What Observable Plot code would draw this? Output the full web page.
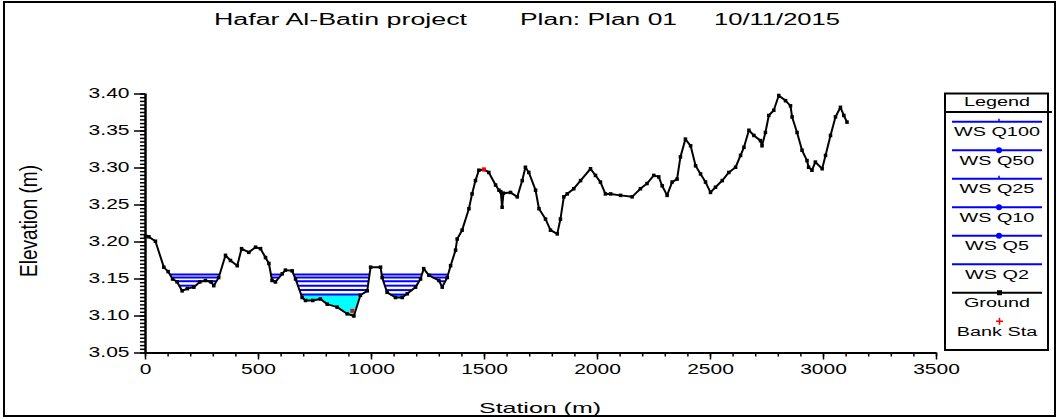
<!DOCTYPE html>
<html><head><meta charset="utf-8">
<script src="https://cdn.jsdelivr.net/npm/d3@7"></script>
<script src="https://cdn.jsdelivr.net/npm/@observablehq/plot@0.6"></script>
<style>
body{margin:0;background:#fff;}
#wrap{position:relative;width:1058px;height:419px;}
svg text{font-family:"Liberation Sans",Arial,sans-serif;}
</style></head><body><div id="wrap"></div>
<script>
// ---- data ----
const titleParts = ["Hafar Al-Batin project", "Plan: Plan 01", "10/11/2015"];
const xLabel = "Station (m)";
const yLabel = "Elevation (m)";
const stations = [0,15,44,81,100,120,140,162,185,214,240,265,290,302,324,354,376,406,425,457,487,509,531,546,560,575,605,619,649,664,693,708,740,774,804,848,892,922,951,981,996,1040,1047,1069,1106,1136,1158,1195,1217,1231,1254,1298,1313,1335,1350,1372,1379,1401,1431,1445,1460,1475,1497,1519,1549,1564,1572,1578,1584,1615,1645,1667,1681,1696,1726,1741,1770,1792,1822,1836,1851,1866,1895,1925,1969,1991,2013,2035,2058,2102,2153,2190,2219,2249,2271,2286,2308,2330,2352,2367,2389,2412,2434,2456,2478,2500,2522,2552,2581,2611,2633,2648,2670,2692,2721,2728,2743,2758,2780,2802,2832,2854,2861,2883,2905,2927,2934,2949,2964,2994,3009,3031,3053,3075,3090,3104];
const elevations = [3.208,3.207,3.201,3.166,3.160,3.150,3.146,3.134,3.137,3.139,3.146,3.148,3.146,3.141,3.152,3.182,3.175,3.168,3.191,3.186,3.193,3.191,3.179,3.171,3.148,3.146,3.157,3.162,3.161,3.150,3.125,3.121,3.121,3.123,3.116,3.112,3.103,3.100,3.128,3.134,3.166,3.166,3.152,3.132,3.125,3.125,3.130,3.139,3.150,3.164,3.155,3.148,3.139,3.152,3.168,3.189,3.204,3.216,3.245,3.265,3.283,3.297,3.298,3.294,3.277,3.270,3.268,3.247,3.266,3.267,3.261,3.283,3.301,3.294,3.270,3.245,3.231,3.216,3.211,3.231,3.261,3.265,3.272,3.283,3.299,3.290,3.281,3.265,3.265,3.263,3.261,3.272,3.279,3.290,3.288,3.276,3.263,3.281,3.285,3.315,3.339,3.330,3.303,3.292,3.281,3.267,3.274,3.283,3.294,3.301,3.317,3.328,3.351,3.344,3.337,3.330,3.348,3.371,3.378,3.398,3.391,3.384,3.369,3.348,3.324,3.310,3.301,3.297,3.308,3.299,3.317,3.344,3.369,3.382,3.371,3.362];
const profiles = ["WS Q100","WS Q50","WS Q25","WS Q10","WS Q5","WS Q2"];
const wsLevels = [3.156,3.152,3.147,3.141,3.135,3.129];
const profileMarkers = ["tick","dot","tick","dot","dot","none"];
const bankStations = [915,1497];
const bankElevations = [3.107,3.298];
const xTicks = [0,500,1000,1500,2000,2500,3000,3500];
const yTicks = [3.05,3.10,3.15,3.20,3.25,3.30,3.35,3.40];
const xMinorStep = 100;
const yMinorStep = 0.005;

// ---- derived tables ----
const ground = stations.map((x,i)=>({x, z: elevations[i]}));
const bank = bankStations.map((x,i)=>({x, z: bankElevations[i]}));
function crossX(q,p,level){ return q.x + (level-q.z)/(p.z-q.z)*(p.x-q.x); }
function wetSegments(level){
  const segs=[]; let start = ground[0].z < level ? ground[0].x : null;
  for(let i=1;i<ground.length;i++){
    const q=ground[i-1], p=ground[i];
    const qb=q.z<level, pb=p.z<level;
    if(!qb && pb) start = crossX(q,p,level);
    else if(qb && !pb){ segs.push({x1:start, x2:crossX(q,p,level), y:level}); start=null; }
  }
  if(start!==null) segs.push({x1:start, x2:ground[ground.length-1].x, y:level});
  return segs;
}
function fillTable(level){
  const out=[ground[0]];
  for(let i=1;i<ground.length;i++){
    const q=ground[i-1], p=ground[i];
    if((q.z-level)*(p.z-level)<0) out.push({x:crossX(q,p,level), z:level});
    out.push(p);
  }
  return out.map(d=>({x:d.x, z:d.z, top:Math.max(d.z, level)}));
}
const wsSegs = wsLevels.flatMap((lv,i)=>wetSegments(lv).map(s=>({...s, profile:profiles[i]})));
const lowest = wsLevels[wsLevels.length-1];
const fillData = fillTable(lowest);
const xMinor = d3.range(xTicks[0], xTicks[xTicks.length-1]+1e-9, xMinorStep);
const yMinor = d3.range(0, Math.round((yTicks[yTicks.length-1]-yTicks[0])/yMinorStep)+1).map(i=>+(yTicks[0]+i*yMinorStep).toFixed(4));

const BLUE="#0000ff";
const chart = Plot.plot({
  width:1058, height:419,
  marginLeft:145, marginRight:122, marginTop:93.5, marginBottom:66.5,
  style:{fontFamily:"Liberation Sans, Arial, sans-serif", fontSize:"14px", color:"#000", background:"#fff"},
  x:{domain:[xTicks[0], xTicks[xTicks.length-1]]},
  y:{domain:[yTicks[0], yTicks[yTicks.length-1]]},
  marks:[
    Plot.areaY(fillData,{x:"x", y1:"z", y2:"top", fill:"#00ffff"}),
    Plot.ruleY(wsSegs,{x1:"x1", x2:"x2", y:"y", stroke:BLUE, strokeWidth:2}),
    Plot.line(ground,{x:"x", y:"z", stroke:"#000", strokeWidth:2}),
    Plot.dot(ground,{x:"x", y:"z", symbol:"square", r:2, fill:"#000"}),
    Plot.dot(bank,{x:"x", y:"z", symbol:"square", r:2.2, fill:"#ff0000"}),
    Plot.axisX({ticks:xMinor, tickSize:4, text:null, strokeWidth:1.5}),
    Plot.axisX({ticks:xTicks, tickSize:7, tickPadding:4, tickFormat:d=>String(d), label:null, strokeWidth:1.5}),
    Plot.axisY({ticks:yMinor, tickSize:5, text:null, strokeWidth:1.5}),
    Plot.axisY({ticks:yTicks, tickSize:11, tickPadding:5, tickFormat:d3.format(".2f"), label:null, strokeWidth:1.5}),
    Plot.ruleX([xTicks[0]],{y1:yTicks[0], y2:yTicks[yTicks.length-1], strokeWidth:2.5}),
    Plot.ruleY([yTicks[0]],{x1:xTicks[0], x2:xTicks[xTicks.length-1], strokeWidth:2})
  ]
});
document.getElementById("wrap").appendChild(chart);
const svg = d3.select(chart);

// stretch tick labels (reference glyphs are horizontally widened)
function stretch(el, f){ const w=el.getComputedTextLength(); el.setAttribute("textLength", (w*f).toFixed(1)); el.setAttribute("lengthAdjust","spacingAndGlyphs"); }
svg.selectAll("text").each(function(){ stretch(this, 1.5); });

// outer border
svg.append("rect").attr("x",4).attr("y",2).attr("width",1051).attr("height",414)
  .attr("fill","none").attr("stroke","#000").attr("stroke-width",2);

// title
const titleX=[214,520,714], titleW=[253,157,126];
titleParts.forEach((t,i)=>{
  svg.append("text").attr("x",titleX[i]).attr("y",25).attr("text-anchor","start").attr("font-size",16).attr("fill","#000")
    .attr("textLength",titleW[i]).attr("lengthAdjust","spacingAndGlyphs").text(t);
});
// axis labels
svg.append("text").attr("x",540).attr("y",413).attr("text-anchor","middle").attr("font-size",15)
  .attr("textLength",122).attr("lengthAdjust","spacingAndGlyphs").text(xLabel);
svg.append("text").attr("transform","translate(37,221) scale(1.4,1) rotate(-90)").attr("text-anchor","middle")
  .attr("font-size",17).attr("textLength",112).attr("lengthAdjust","spacingAndGlyphs").text(yLabel);

// legend
const lg = svg.append("g");
lg.append("rect").attr("x",945).attr("y",93.5).attr("width",103).attr("height",256.5).attr("fill","#fff").attr("stroke","#000").attr("stroke-width",2);
lg.append("line").attr("x1",945).attr("x2",1052).attr("y1",112).attr("y2",112).attr("stroke","#000").attr("stroke-width",2);
function ltext(t,y){ const e=lg.append("text").attr("x",997).attr("y",y).attr("text-anchor","middle").attr("font-size",12).attr("fill","#000").text(t); stretch(e.node(),1.65); }
ltext("Legend",106);
const legendNames=[...profiles,"Ground","Bank Sta"];
const legendColors=[...profiles.map(()=>BLUE),"#000","#ff0000"];
const legendMarks=[...profileMarkers,"square","plus"];
legendNames.forEach((n,i)=>{
  const y = 121.7 + i*28.5;
  if(legendMarks[i]!=="plus"){
    lg.append("line").attr("x1",952).attr("x2",1042).attr("y1",y).attr("y2",y).attr("stroke",legendColors[i]).attr("stroke-width",2);
  }
  const m=legendMarks[i];
  if(m==="dot") lg.append("circle").attr("cx",999).attr("cy",y).attr("r",3).attr("fill",legendColors[i]);
  if(m==="tick") lg.append("line").attr("x1",999).attr("x2",999).attr("y1",y-3).attr("y2",y).attr("stroke",legendColors[i]).attr("stroke-width",1.5);
  if(m==="square") lg.append("rect").attr("x",997).attr("y",y-2.5).attr("width",5).attr("height",5).attr("fill",legendColors[i]);
  if(m==="plus"){ lg.append("path").attr("d",`M996,${y}h7M999.5,${y-3.5}v7`).attr("stroke",legendColors[i]).attr("stroke-width",1.5); }
  ltext(n, y + (m==="plus"?15:14.5));
});
</script></body></html>
